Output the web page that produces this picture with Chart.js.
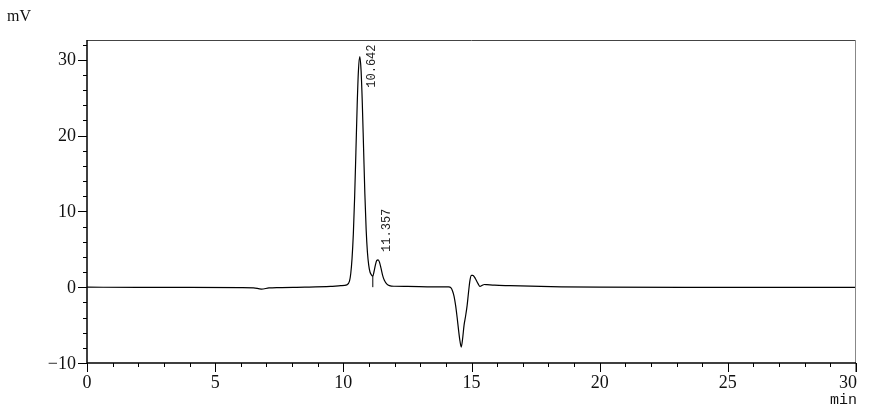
<!DOCTYPE html>
<html>
<head>
<meta charset="utf-8">
<script src="https://cdn.jsdelivr.net/npm/chart.js"></script>
<style>
  html, body { margin: 0; padding: 0; background: #fff; }
  canvas { display: block; }
</style>
</head>
<body>
<canvas id="chromChart" width="896" height="408"></canvas>
<script>
// retention time (min) and detector signal (mV)
const times = [0, 2, 4, 6, 6.5, 6.8, 7.1, 7.5, 8.5, 9.5, 9.9, 10.14, 10.24, 10.29, 10.34, 10.39, 10.44, 10.49, 10.54, 10.59, 10.642,
  10.69, 10.74, 10.79, 10.84, 10.89, 10.94, 10.99, 11.04, 11.1, 11.15, 11.2, 11.25, 11.3, 11.357, 11.41, 11.47, 11.53, 11.6, 11.7, 11.8, 12.0,
  12.5, 13.5, 14.1, 14.2, 14.26, 14.32, 14.38, 14.44, 14.5, 14.55, 14.6, 14.65, 14.71, 14.77, 14.83, 14.88, 14.94, 15.0, 15.05, 15.14, 15.25,
  15.33, 15.42, 15.5, 15.6, 15.9, 16.5, 17.3, 18.5, 20, 25, 30];
const signal = [0, -0.02, -0.03, -0.05, -0.08, -0.25, -0.1, -0.05, 0.0, 0.1, 0.2, 0.3, 0.8, 1.8, 3.8, 7.0, 11.8, 17.8, 24.0, 28.6, 30.4,
  28.7, 24.3, 18.3, 12.3, 7.6, 4.6, 2.9, 2.0, 1.6, 1.45, 2.1, 2.9, 3.5, 3.6, 3.3, 2.5, 1.6, 0.9, 0.4, 0.2, 0.12,
  0.1, 0.05, 0.03, -0.1, -0.5, -1.2, -2.4, -4.0, -5.8, -7.1, -7.9, -6.9, -5.0, -3.8, -2.4, -0.8, 0.9, 1.55, 1.55, 1.2, 0.5,
  0.1, 0.25, 0.35, 0.33, 0.26, 0.2, 0.13, 0.05, 0.0, -0.02, -0.02];

// peak annotations
const peakTimes = [10.642, 11.357];
const peakHeights = [30.4, 3.6];
const peakLabels = ['10.642', '11.357'];
const dropTime = 11.15;
const dropHeight = 1.45;

// axes
const xMajorTicks = [0, 5, 10, 15, 20, 25, 30];
const xTickLabels = ['0', '5', '10', '15', '20', '25', '30'];
const yMajorTicks = [-10, 0, 10, 20, 30];
const yTickLabels = ['\u221210', '0', '10', '20', '30'];

const trace = times.map((t, i) => ({ x: t, y: signal[i] }));

const axesPlugin = {
  id: 'axesPlugin',
  afterDraw(chart) {
    const { ctx, chartArea: a, scales: { x, y } } = chart;
    ctx.save();

    // frame
    ctx.lineWidth = 1;
    ctx.strokeStyle = '#444';
    ctx.beginPath(); ctx.moveTo(a.left, a.top + 0.5); ctx.lineTo(a.right, a.top + 0.5); ctx.stroke();
    ctx.strokeStyle = '#888';
    ctx.beginPath(); ctx.moveTo(a.right - 0.5, a.top); ctx.lineTo(a.right - 0.5, a.bottom + 9); ctx.stroke();
    ctx.strokeStyle = '#000';
    ctx.lineWidth = 1.5;
    ctx.beginPath(); ctx.moveTo(a.left, a.top); ctx.lineTo(a.left, a.bottom); ctx.lineTo(a.right, a.bottom); ctx.stroke();

    // ticks
    ctx.lineWidth = 1;
    ctx.strokeStyle = '#000';
    for (let v = -10; v <= 32; v += 2) {
      const py = Math.round(y.getPixelForValue(v)) + 0.5;
      const len = yMajorTicks.includes(v) ? 9 : 4;
      ctx.beginPath(); ctx.moveTo(a.left - len, py); ctx.lineTo(a.left, py); ctx.stroke();
    }
    for (let v = 0; v <= 30; v += 1) {
      const px = Math.round(x.getPixelForValue(v)) + 0.5;
      const len = xMajorTicks.includes(v) ? 9 : 4;
      ctx.beginPath(); ctx.moveTo(px, a.bottom); ctx.lineTo(px, a.bottom + len); ctx.stroke();
    }

    // tick labels
    ctx.fillStyle = '#111';
    ctx.font = '18px "Liberation Serif"';
    ctx.textAlign = 'right';
    ctx.textBaseline = 'middle';
    yMajorTicks.forEach((v, i) => {
      ctx.fillText(yTickLabels[i], a.left - 11, y.getPixelForValue(v) + 1);
    });
    ctx.textBaseline = 'top';
    xMajorTicks.forEach((v, i) => {
      const last = i === xMajorTicks.length - 1;
      ctx.textAlign = last ? 'right' : 'center';
      ctx.fillText(xTickLabels[i], x.getPixelForValue(v) + (last ? 1 : 0), a.bottom + 11);
    });

    // units
    ctx.font = '16px "Liberation Serif"';
    ctx.textAlign = 'left';
    ctx.textBaseline = 'alphabetic';
    ctx.fillText('mV', 7, 21);
    ctx.textAlign = 'right';
    ctx.font = '15px "Liberation Mono"';
    ctx.fillText('min', a.right + 1, 404);

    // peak labels, rotated
    ctx.font = '12px "Liberation Mono"';
    ctx.fillStyle = '#222';
    ctx.textBaseline = 'middle';
    ctx.textAlign = 'left';
    const offsets = [[12, 31], [9, -8]];
    peakTimes.forEach((t, i) => {
      const px = x.getPixelForValue(t) + offsets[i][0];
      const py = y.getPixelForValue(peakHeights[i]) + offsets[i][1];
      ctx.save();
      ctx.translate(px, py);
      ctx.rotate(-Math.PI / 2);
      ctx.fillText(peakLabels[i], 0, 0);
      ctx.restore();
    });

    ctx.restore();
  }
};

new Chart(document.getElementById('chromChart'), {
  type: 'line',
  data: {
    datasets: [
      {
        data: trace,
        borderColor: '#000',
        borderWidth: 1.2,
        pointRadius: 0,
        cubicInterpolationMode: 'monotone',
        fill: false
      },
      {
        data: [{ x: dropTime, y: 0 }, { x: dropTime, y: dropHeight }],
        borderColor: '#000',
        borderWidth: 1,
        pointRadius: 0,
        fill: false
      }
    ]
  },
  options: {
    responsive: false,
    animation: false,
    layout: { padding: { left: 87, right: 40, top: 40, bottom: 45 } },
    plugins: { legend: { display: false }, tooltip: { enabled: false } },
    scales: {
      x: { type: 'linear', min: 0, max: 30, display: false },
      y: { type: 'linear', min: -10, max: 32.6, display: false }
    }
  },
  plugins: [axesPlugin]
});
</script>
</body>
</html>
